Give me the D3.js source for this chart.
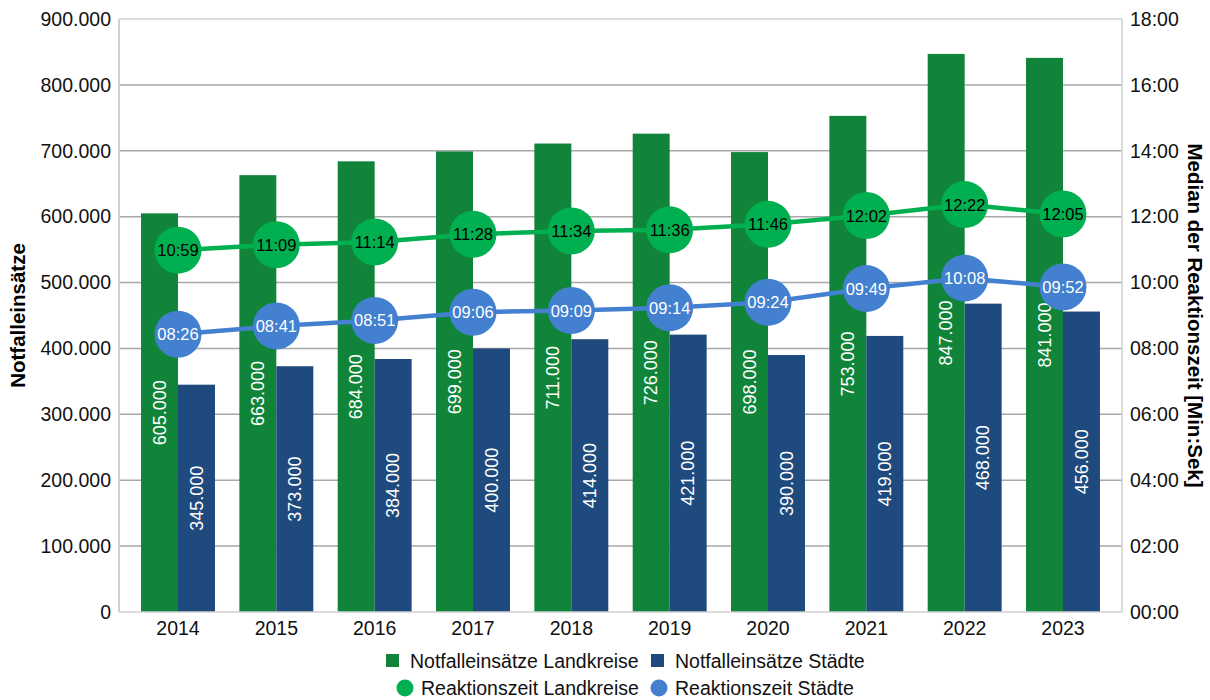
<!DOCTYPE html>
<html><head><meta charset="utf-8">
<script src="https://cdn.jsdelivr.net/npm/d3@7"></script>
<style>body{margin:0;background:#fff;font-family:"Liberation Sans",Arial,sans-serif;}</style>
</head><body><svg id="c" width="1210" height="700"></svg>
<script>
const years = ["2014","2015","2016","2017","2018","2019","2020","2021","2022","2023"];
const einsaetzeLand = [605000,663000,684000,699000,711000,726000,698000,753000,847000,841000];
const einsaetzeStadt = [345000,373000,384000,400000,414000,421000,390000,419000,468000,456000];
const reaktionLand = ["10:59","11:09","11:14","11:28","11:34","11:36","11:46","12:02","12:22","12:05"];
const reaktionStadt = ["08:26","08:41","08:51","09:06","09:09","09:14","09:24","09:49","10:08","09:52"];
const leftTicks = [0,100000,200000,300000,400000,500000,600000,700000,800000,900000];
const rightTicks = ["00:00","02:00","04:00","06:00","08:00","10:00","12:00","14:00","16:00","18:00"];

const C = {gl:"#108539", gs:"#1f4a7d", ll:"#00b050", ls:"#4380d0"};
// "MM:SS" -> minutes
const toMin = s => { const [m,sec]=s.split(":").map(Number); return m+sec/60; };
const fmtDE = v => d3.format(",")(v).replace(/,/g,".");

const svg = d3.select("#c");
const L=119, R=1122, T=19, B=612;
const x = d3.scaleBand().domain(years).range([L,R]).paddingInner(0).paddingOuter(0.1);
const yL = d3.scaleLinear().domain([0,900000]).range([B,T]);
const yR = d3.scaleLinear().domain([0,18]).range([B,T]);
const bw = x.bandwidth()*0.376;

svg.append("g").selectAll("line").data(leftTicks.slice(1,-1)).join("line")
  .attr("x1",L).attr("x2",R).attr("y1",d=>yL(d)).attr("y2",d=>yL(d))
  .attr("stroke","#a8a8a8").attr("stroke-width",1.5);
svg.append("line").attr("x1",L).attr("x2",R).attr("y1",T).attr("y2",T).attr("stroke","#d0d0d0").attr("stroke-width",1.5);
svg.append("line").attr("x1",L).attr("x2",L).attr("y1",T).attr("y2",B).attr("stroke","#d0d0d0").attr("stroke-width",2);
svg.append("line").attr("x1",R).attr("x2",R).attr("y1",T).attr("y2",B).attr("stroke","#d0d0d0").attr("stroke-width",1.5);

const cx = d => x(d)+x.bandwidth()/2;
svg.append("g").selectAll("rect").data(years).join("rect")
  .attr("x",(d)=>cx(d)-bw).attr("width",bw)
  .attr("y",(d,i)=>yL(einsaetzeLand[i])).attr("height",(d,i)=>B-yL(einsaetzeLand[i]))
  .attr("fill",C.gl);
svg.append("g").selectAll("rect").data(years).join("rect")
  .attr("x",(d)=>cx(d)).attr("width",bw)
  .attr("y",(d,i)=>yL(einsaetzeStadt[i])).attr("height",(d,i)=>B-yL(einsaetzeStadt[i]))
  .attr("fill",C.gs);
svg.append("line").attr("x1",L).attr("x2",R).attr("y1",B).attr("y2",B).attr("stroke","#d0d0d0").attr("stroke-width",1.5);

function barLabels(vals, off){
  svg.append("g").selectAll("text").data(years).join("text")
    .attr("transform",(d,i)=>`translate(${cx(d)+off},${(yL(vals[i])+B)/2}) rotate(-90)`)
    .attr("text-anchor","middle").attr("dy","0.35em")
    .attr("fill","#fff").attr("font-size",18)
    .text((d,i)=>fmtDE(vals[i]));
}
barLabels(einsaetzeLand,-bw/2);
barLabels(einsaetzeStadt,bw/2);

function series(vals,color,textColor){
  const line = d3.line().x((d,i)=>cx(years[i])).y(d=>yR(toMin(d)));
  svg.append("path").datum(vals).attr("d",line).attr("fill","none").attr("stroke",color).attr("stroke-width",4.5);
  const g = svg.append("g").selectAll("g").data(vals).join("g")
    .attr("transform",(d,i)=>`translate(${cx(years[i])},${yR(toMin(d))})`);
  g.append("circle").attr("r",23.5).attr("fill",color);
  g.append("text").attr("text-anchor","middle").attr("dy","0.36em").attr("font-size",16.5)
    .attr("fill",textColor).text(d=>d);
}
series(reaktionLand,C.ll,"#000");
series(reaktionStadt,C.ls,"#fff");

svg.append("g").selectAll("text").data(leftTicks).join("text")
  .attr("x",111).attr("y",d=>yL(d)).attr("dy","0.35em").attr("text-anchor","end")
  .attr("font-size",19.5).attr("fill","#111").text(d=>fmtDE(d));
svg.append("g").selectAll("text").data(rightTicks).join("text")
  .attr("x",1130).attr("y",d=>yR(toMin(d))).attr("dy","0.35em").attr("text-anchor","start")
  .attr("font-size",19.5).attr("fill","#111").text(d=>d);
svg.append("g").selectAll("text").data(years).join("text")
  .attr("x",d=>cx(d)).attr("y",635).attr("text-anchor","middle")
  .attr("font-size",19.5).attr("fill","#111").text(d=>d);

svg.append("text").attr("transform",`translate(25,${(T+B)/2}) rotate(-90)`).attr("text-anchor","middle")
  .attr("font-size",20.5).attr("font-weight","bold").attr("fill","#000").text("Notfalleinsätze");
svg.append("text").attr("transform",`translate(1188,${(T+B)/2}) rotate(90)`).attr("text-anchor","middle")
  .attr("font-size",20.5).attr("font-weight","bold").attr("fill","#000").text("Median der Reaktionszeit [Min:Sek]");

const leg = [
  {t:"Notfalleinsätze Landkreise", c:C.gl, s:"rect", x:386, y:661},
  {t:"Notfalleinsätze Städte", c:C.gs, s:"rect", x:651, y:661},
  {t:"Reaktionszeit Landkreise", c:C.ll, s:"circle", x:397, y:688},
  {t:"Reaktionszeit Städte", c:C.ls, s:"circle", x:651, y:688}
];
const lg = svg.append("g").selectAll("g").data(leg).join("g").attr("transform",d=>`translate(${d.x},${d.y})`);
lg.filter(d=>d.s==="rect").append("rect").attr("x",0).attr("y",-7).attr("width",13).attr("height",13).attr("fill",d=>d.c);
lg.filter(d=>d.s==="circle").append("circle").attr("cx",8).attr("cy",0).attr("r",8.5).attr("fill",d=>d.c);
lg.append("text").attr("x",d=>d.s==="rect"?24:24).attr("dy","0.35em").attr("font-size",19.5).attr("fill","#111").text(d=>d.t);
</script></body></html>
